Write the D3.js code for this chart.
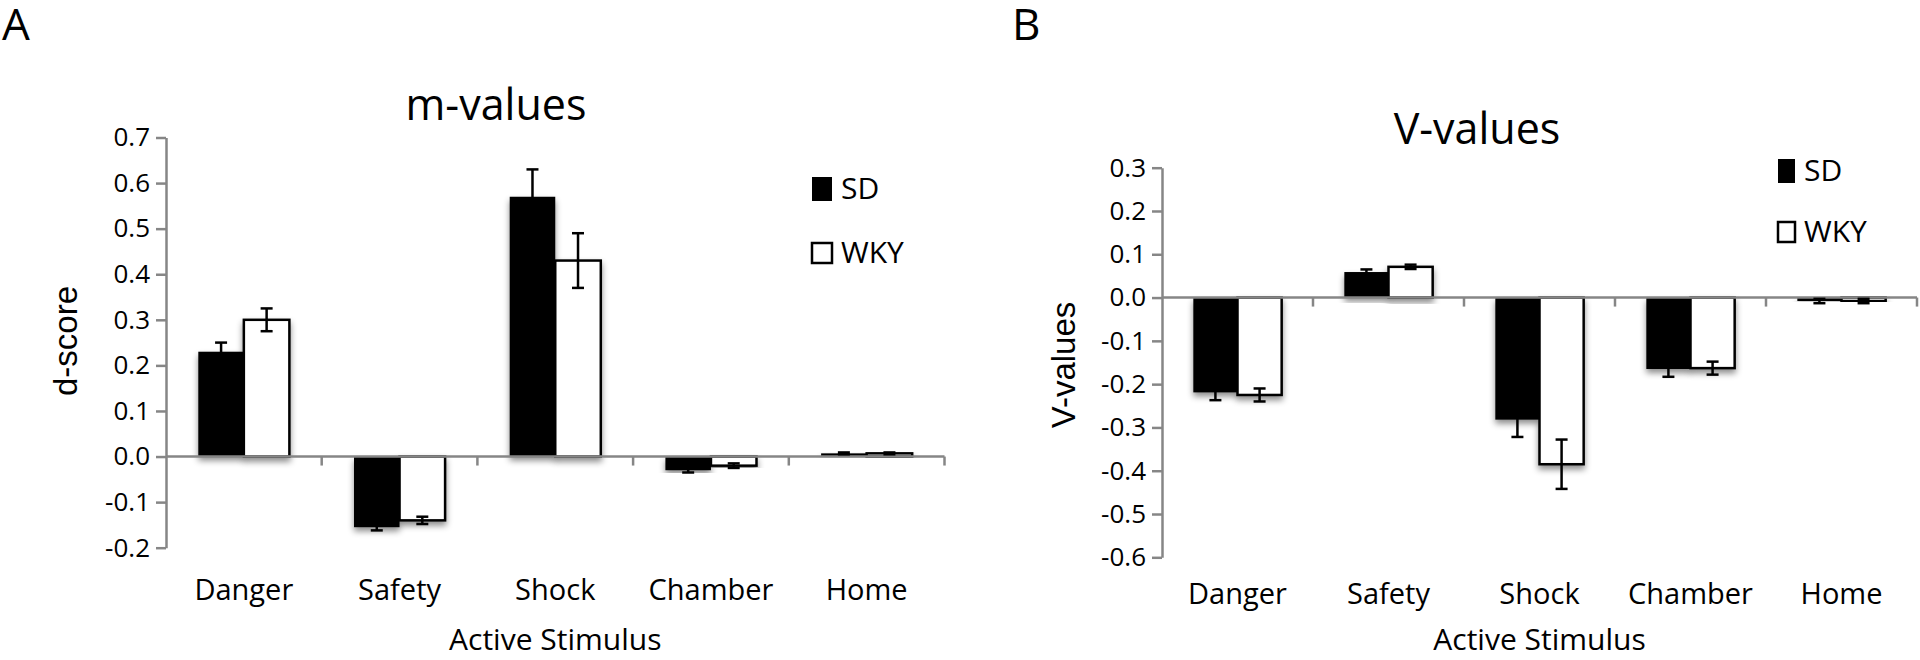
<!DOCTYPE html>
<head>
  <meta charset="utf-8">
  <style>
  body { margin: 0; background: #fff; }
  text { font-family: "Open Sans", sans-serif; fill: #000; }
  .ylab { font-family: "Liberation Sans", Arial, sans-serif; }
  .axis line, .axis path { stroke: #868686; stroke-width: 2.5px; fill: none; }
  </style>
  <script src="https://d3js.org/d3.v7.min.js"></script>
</head>
<body>
  <svg width="1920" height="660"></svg>
  <script>

  var categories = ["Danger", "Safety", "Shock", "Chamber", "Home"];
  var groups = ["SD", "WKY"];

  // panel A: m-values (d-score)
  var mSD = [0.23, -0.155, 0.57, -0.03, 0.007];
  var mSDerr = [0.02, 0.007, 0.06, 0.005, 0.002];
  var mWKY = [0.30, -0.14, 0.43, -0.02, 0.007];
  var mWKYerr = [0.025, 0.008, 0.06, 0.005, 0.002];
  var mTicks = [-0.2, -0.1, 0.0, 0.1, 0.2, 0.3, 0.4, 0.5, 0.6, 0.7];

  // panel B: V-values
  var vSD = [-0.219, 0.059, -0.282, -0.165, -0.008];
  var vSDerr = [0.018, 0.006, 0.04, 0.018, 0.005];
  var vWKY = [-0.225, 0.071, -0.385, -0.163, -0.008];
  var vWKYerr = [0.015, 0.005, 0.057, 0.015, 0.005];
  var vTicks = [-0.6, -0.5, -0.4, -0.3, -0.2, -0.1, 0.0, 0.1, 0.2, 0.3];

  var svg = d3.select("svg");

  var defs = svg.append("defs");
  defs.append("filter")
    .attr("id", "shadow")
    .attr("x", "-20%").attr("y", "-20%")
    .attr("width", "140%").attr("height", "140%")
    .append("feDropShadow")
    .attr("dx", 0).attr("dy", 4)
    .attr("stdDeviation", 3)
    .attr("flood-color", "#000")
    .attr("flood-opacity", 0.45);

  var fmt = function(d) { return d3.format(".1f")(d).replace("\u2212", "-"); };

  function drawPanel(p) {
    var g = svg.append("g");

    var y = d3.scaleLinear()
      .domain([p.ticks[0], p.ticks[p.ticks.length - 1]])
      .range([p.bottom, p.top]);

    var x0 = d3.scaleBand()
      .domain(categories)
      .range([p.left, p.right]);

    var x1 = d3.scaleBand()
      .domain(groups)
      .range([x0.bandwidth() * 0.2075, x0.bandwidth() * 0.7925]);

    var rows = categories.map(function(c, i) {
      return [
        { cat: c, grp: "SD", v: p.sd[i], e: p.sdErr[i] },
        { cat: c, grp: "WKY", v: p.wky[i], e: p.wkyErr[i] }
      ];
    });
    var flat = [].concat.apply([], rows);

    // y axis
    var yAxis = g.append("g")
      .attr("class", "axis")
      .attr("transform", "translate(" + p.left + ",0)")
      .call(d3.axisLeft(y).tickValues(p.ticks).tickFormat(fmt).tickSize(10).tickSizeOuter(0));
    yAxis.selectAll("text")
      .attr("x", -16)
      .style("font-size", "26px")
      .style("font-family", "'Open Sans', sans-serif")
      .attr("fill", "#000");

    // bars
    g.append("g")
      .selectAll("rect")
      .data(flat)
      .enter().append("rect")
      .attr("x", function(d) { return x0(d.cat) + x1(d.grp); })
      .attr("width", x1.bandwidth())
      .attr("y", function(d) { return y(Math.max(0, d.v)); })
      .attr("height", function(d) { return Math.abs(y(d.v) - y(0)); })
      .attr("fill", function(d) { return d.grp == "SD" ? "#000" : "#fff"; })
      .attr("stroke", "#000")
      .attr("stroke-width", function(d) { return d.grp == "SD" ? 0 : 2.5; })
      .attr("filter", "url(#shadow)");

    // x axis at zero, ticks at category boundaries
    var xAxis = g.append("g").attr("class", "axis");
    xAxis.append("line")
      .attr("x1", p.left).attr("x2", p.right)
      .attr("y1", y(0)).attr("y2", y(0));
    xAxis.selectAll(".bt")
      .data(categories.slice(1).concat(["end"]))
      .enter().append("line")
      .attr("x1", function(d) { return d == "end" ? p.right : x0(d); })
      .attr("x2", function(d) { return d == "end" ? p.right : x0(d); })
      .attr("y1", y(0)).attr("y2", y(0) + 9);

    // error bars
    var eb = g.append("g")
      .attr("stroke", "#000")
      .attr("stroke-width", 2.5);
    var cx = function(d) { return x0(d.cat) + x1(d.grp) + x1.bandwidth() / 2; };
    eb.selectAll(".stem")
      .data(flat)
      .enter().append("line")
      .attr("x1", cx).attr("x2", cx)
      .attr("y1", function(d) { return y(d.v + d.e); })
      .attr("y2", function(d) { return y(d.v - d.e); });
    eb.selectAll(".capHi")
      .data(flat)
      .enter().append("line")
      .attr("x1", function(d) { return cx(d) - 6; })
      .attr("x2", function(d) { return cx(d) + 6; })
      .attr("y1", function(d) { return y(d.v + d.e); })
      .attr("y2", function(d) { return y(d.v + d.e); });
    eb.selectAll(".capLo")
      .data(flat)
      .enter().append("line")
      .attr("x1", function(d) { return cx(d) - 6; })
      .attr("x2", function(d) { return cx(d) + 6; })
      .attr("y1", function(d) { return y(d.v - d.e); })
      .attr("y2", function(d) { return y(d.v - d.e); });

    // category labels
    g.selectAll(".cat")
      .data(categories)
      .enter().append("text")
      .attr("x", function(d) { return x0(d) + x0.bandwidth() / 2; })
      .attr("y", p.catY)
      .attr("text-anchor", "middle")
      .style("font-size", "29px")
      .text(function(d) { return d; });

    g.append("text")
      .attr("x", (p.left + p.right) / 2)
      .attr("y", 650)
      .attr("text-anchor", "middle")
      .style("font-size", "30px")
      .text("Active Stimulus");

    // title
    g.append("text")
      .attr("x", p.titleX)
      .attr("y", p.titleY)
      .attr("text-anchor", "middle")
      .style("font-size", "43px")
      .text(p.title);

    // y label
    g.append("text")
      .attr("class", "ylab")
      .attr("transform", "translate(" + p.ylabX + "," + p.ylabY + ") rotate(-90)")
      .attr("text-anchor", "middle")
      .style("font-size", "33px")
      .text(p.ylab);

    // panel letter
    g.append("text")
      .attr("x", p.letterX)
      .attr("y", 40)
      .style("font-size", "44px")
      .text(p.letter);

    // legend
    var leg = g.append("g");
    groups.forEach(function(k, i) {
      var ly = p.legY + i * p.legGap;
      leg.append("rect")
        .attr("x", p.legX)
        .attr("y", ly - (k == "SD" ? 12 : 10))
        .attr("width", p.legW)
        .attr("height", k == "SD" ? 24 : 20)
        .attr("fill", k == "SD" ? "#000" : "#fff")
        .attr("stroke", "#000")
        .attr("stroke-width", k == "SD" ? 0 : 2.5);
      leg.append("text")
        .attr("x", p.legX + p.legW + 9)
        .attr("y", ly + 10)
        .style("font-size", "30px")
        .text(k);
    });
  }

  drawPanel({
    letter: "A", letterX: 2,
    title: "m-values", titleX: 496, titleY: 120,
    ylab: "d-score", ylabX: 77, ylabY: 341,
    left: 166, right: 944.5, top: 137.5, bottom: 547.7,
    catY: 600, ticks: mTicks,
    sd: mSD, sdErr: mSDerr, wky: mWKY, wkyErr: mWKYerr,
    legX: 812, legY: 189, legGap: 64, legW: 20
  });

  drawPanel({
    letter: "B", letterX: 1012,
    title: "V-values", titleX: 1477, titleY: 144,
    ylab: "V-values", ylabX: 1075, ylabY: 365,
    left: 1162, right: 1917, top: 167.7, bottom: 557.3,
    catY: 604, ticks: vTicks,
    sd: vSD, sdErr: vSDerr, wky: vWKY, wkyErr: vWKYerr,
    legX: 1778, legY: 171, legGap: 61, legW: 17
  });

  </script>
</body>
